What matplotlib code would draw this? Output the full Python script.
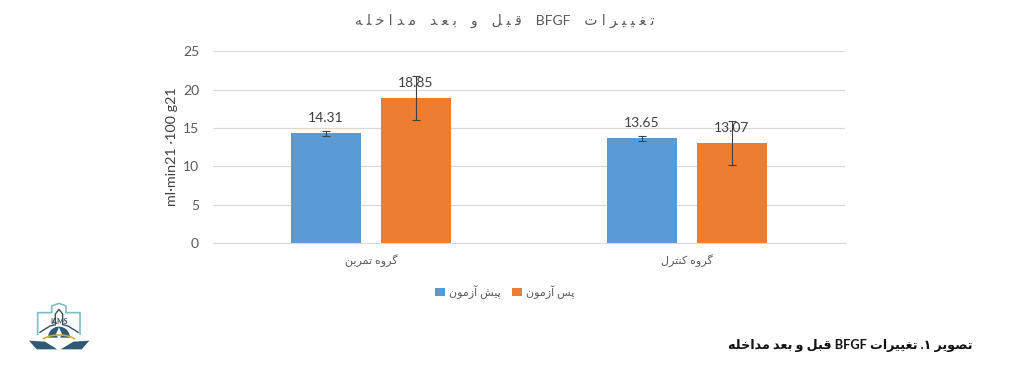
import numpy as np
import matplotlib
matplotlib.use("Agg")
import matplotlib.pyplot as plt
from matplotlib.patches import Polygon, Wedge, Arc

plt.rcParams['font.family'] = ['Lato', 'DejaVu Sans']

CATEGORIES = ["گروه تمرین", "گروه کنترل"]
SERIES_NAMES = ["پیش آزمون", "پس آزمون"]
PRE_VALUES = [14.31, 13.65]
POST_VALUES = [18.85, 13.07]
PRE_ERRORS = [0.30, 0.33]
POST_ERRORS = [2.87, 2.85]
Y_TICKS = [0, 5, 10, 15, 20, 25]
TITLE = "تغییرات BFGF قبل و بعد مداخله"
CAPTION = "تصویر ۱. تغییرات BFGF قبل و بعد مداخله"
Y_LABEL = "ml·min21 ·100 g21"

BLUE = "#5B9BD5"
ORANGE = "#ED7D31"
GREY = "#595959"
W, H = 1015, 372

# isolated, final, initial, medial
FORMS = {
    'ت': (0xFE95, 0xFE96, 0xFE97, 0xFE98), 'غ': (0xFECD, 0xFECE, 0xFECF, 0xFED0),
    'ی': (0xFBFC, 0xFBFD, 0xFBFE, 0xFBFF), 'ق': (0xFED5, 0xFED6, 0xFED7, 0xFED8),
    'ب': (0xFE8F, 0xFE90, 0xFE91, 0xFE92), 'ل': (0xFEDD, 0xFEDE, 0xFEDF, 0xFEE0),
    'ع': (0xFEC9, 0xFECA, 0xFECB, 0xFECC), 'م': (0xFEE1, 0xFEE2, 0xFEE3, 0xFEE4),
    'خ': (0xFEA5, 0xFEA6, 0xFEA7, 0xFEA8), 'ه': (0xFEE9, 0xFEEA, 0xFEEB, 0xFEEC),
    'گ': (0xFB92, 0xFB93, 0xFB94, 0xFB95), 'ن': (0xFEE5, 0xFEE6, 0xFEE7, 0xFEE8),
    'ک': (0xFB8E, 0xFB8F, 0xFB90, 0xFB91), 'پ': (0xFB56, 0xFB57, 0xFB58, 0xFB59),
    'ش': (0xFEB5, 0xFEB6, 0xFEB7, 0xFEB8), 'س': (0xFEB1, 0xFEB2, 0xFEB3, 0xFEB4),
    'ص': (0xFEB9, 0xFEBA, 0xFEBB, 0xFEBC),
    'ر': (0xFEAD, 0xFEAE), 'ا': (0xFE8D, 0xFE8E), 'و': (0xFEED, 0xFEEE),
    'د': (0xFEA9, 0xFEAA), 'آ': (0xFE81, 0xFE82), 'ز': (0xFEAF, 0xFEB0),
}


def ShapeWord(word, gap=""):
    out = []
    for i, ch in enumerate(word):
        prev_joins = i > 0 and len(FORMS[word[i - 1]]) == 4
        next_joins = i < len(word) - 1 and len(FORMS[ch]) == 4
        form = FORMS[ch]
        if prev_joins and next_joins:
            idx = 3
        elif prev_joins:
            idx = 1
        elif next_joins:
            idx = 2
        else:
            idx = 0
        out.append(chr(form[idx]))
    return gap.join(reversed(out))


def Shape(text, gap="", word_gap=" "):
    # matplotlib has no bidi or joining, so lay the Persian out by hand
    words = []
    for word in text.split(" "):
        if word[0] in FORMS:
            words.append(ShapeWord(word, gap))
        elif word == "۱.":
            words.append(".۱")
        else:
            words.append(word)
    return word_gap.join(reversed(words))


fig = plt.figure(figsize=(W / 100, H / 100), dpi=100)
ax = fig.add_axes([213 / W, 1 - 243 / H, 632 / W, 191.7 / H])

x = np.arange(len(CATEGORIES)) + 0.5
offset = 0.1425
width = 0.222
pre_bars = ax.bar(x - offset, PRE_VALUES, width, color=BLUE, zorder=2, label=Shape(SERIES_NAMES[0]))
post_bars = ax.bar(x + offset, POST_VALUES, width, color=ORANGE, zorder=2, label=Shape(SERIES_NAMES[1]))
ax.errorbar(x - offset, PRE_VALUES, yerr=PRE_ERRORS, fmt="none", ecolor="#404040", elinewidth=0.8, capsize=3, capthick=0.8, zorder=3)
ax.errorbar(x + offset, POST_VALUES, yerr=POST_ERRORS, fmt="none", ecolor="#404040", elinewidth=0.8, capsize=3, capthick=0.8, zorder=3)
ax.bar_label(pre_bars, fmt="%.2f", padding=6.5, fontsize=10, color="#404040", zorder=4)
ax.bar_label(post_bars, fmt="%.2f", padding=6.5, fontsize=10, color="#404040", zorder=4)

ax.set_xlim(0, 2)
ax.set_ylim(0, 25)
ax.set_yticks(Y_TICKS)
ax.set_xticks(x)
ax.set_xticklabels([Shape(c) for c in CATEGORIES], fontsize=8, color=GREY)
ax.tick_params(axis="both", length=0)
ax.tick_params(axis="y", labelsize=10, labelcolor=GREY, pad=10)
ax.tick_params(axis="x", pad=8)
ax.grid(axis="y", color="#D9D9D9", linewidth=0.9, zorder=0)
ax.set_axisbelow(True)
for side in ["top", "right", "left"]:
    ax.spines[side].set_visible(False)
ax.spines["bottom"].set_color("#D9D9D9")

fig.text(172 / W, 1 - 147 / H, Y_LABEL, rotation=90, ha="center", va="center", fontsize=10.4, color="#404040")
fig.text(504.5 / W, 1 - 20.5 / H, Shape(TITLE, gap="\u2009\u2009\u200a", word_gap="    "), ha="center", va="center", fontsize=10, color=GREY)
fig.text(972 / W, 1 - 345 / H, Shape(CAPTION), ha="right", va="center", fontsize=9.2, fontweight="bold", color="#111111")

handles, labels = ax.get_legend_handles_labels()
fig.legend(handles, labels, loc="center", bbox_to_anchor=(505 / W, 1 - 292 / H), ncol=2, frameon=False,
           fontsize=8, labelcolor=GREY, handlelength=0.85, handleheight=0.85, handletextpad=0.4, columnspacing=1.0)

# logo, drawn in the pixel grid of a 3x crop
logo = fig.add_axes([0, 1 - 370 / H, 130 / W, 80 / H])
logo.set_xlim(0, 390)
logo.set_ylim(240, 0)
logo.axis("off")
NAVY = "#2E5A73"
TEAL = "#7FBCC6"
logo.add_patch(Polygon([(113, 135), (113, 68), (155, 68), (155, 48), (177, 40), (198, 48), (198, 68), (240, 68), (240, 135)],
                       closed=False, fill=False, edgecolor=TEAL, linewidth=1.2))
logo.add_patch(Polygon([(118, 128), (150, 108), (166, 104), (166, 72), (177, 58), (188, 72), (188, 104), (204, 108), (236, 128)],
                       closed=False, fill=False, edgecolor="#35505F", linewidth=1.0))
logo.add_patch(Wedge((177, 143), 33, 180, 360, facecolor=NAVY, edgecolor="none"))
logo.add_patch(Polygon([(177, 112), (168, 132), (177, 150), (186, 132)], facecolor="white", edgecolor="none"))
logo.add_patch(Arc((177, 165), 120, 60, theta1=200, theta2=340, edgecolor="#D9A93A", linewidth=1.2))
logo.add_patch(Polygon([(87, 152), (135, 155), (172, 178), (110, 178)], facecolor=NAVY, edgecolor="none"))
logo.add_patch(Polygon([(268, 152), (220, 155), (182, 178), (245, 178)], facecolor=NAVY, edgecolor="none"))
logo.text(177, 94, "IAMS", ha="center", va="center", fontsize=5, fontweight="bold", color="#2E4A5C")

fig.savefig("out.png", dpi=100)
plt.close(fig)
